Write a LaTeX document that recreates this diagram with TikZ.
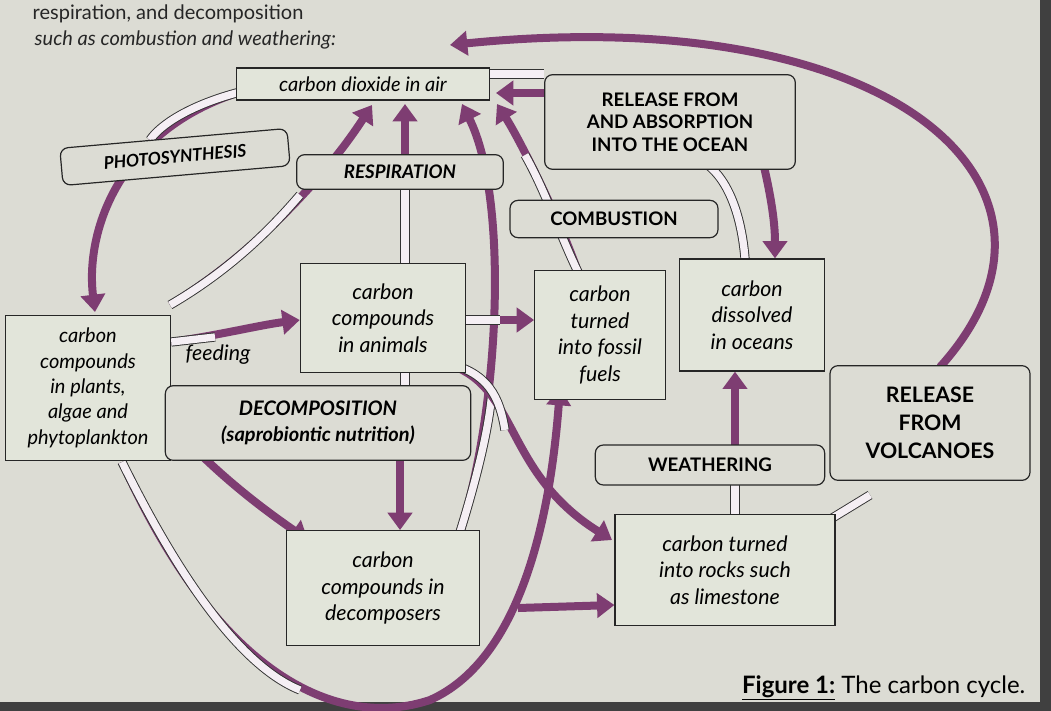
\documentclass[tikz,border=0pt]{standalone}
\usepackage{fontspec}
\setmainfont{Lato}
\usetikzlibrary{arrows.meta,backgrounds}
\pgfdeclarelayer{arr}
\pgfsetlayers{background,arr,main}
\definecolor{pagec}{HTML}{DCDCD4}
\definecolor{boxc}{HTML}{E2E5DA}
\definecolor{arrc}{HTML}{7E3D72}
\begin{document}
\begin{tikzpicture}[x=0.75pt,y=-0.75pt,
  box/.style={draw=black!85,fill=boxc,line width=0.9pt,align=center,inner sep=3pt,font=\itshape\fontsize{16}{20}\selectfont},
  lab/.style={draw=black!85,fill=pagec,line width=0.9pt,rounded corners=6pt,align=center,inner sep=3pt,font=\bfseries\fontsize{14}{17}\selectfont},
  parr/.style={draw=arrc,line width=6pt,-{Triangle[length=13pt,width=18pt]}},
  harr/.style={draw=black!80,double=white!92!arrc,double distance=5.5pt,line width=0.7pt}]
\useasboundingbox (0,0) rectangle (1051,711);
\begin{pgfonlayer}{background}
\fill[pagec] (0,0) rectangle (1051,711);
\fill[black!75] (1040,0) rectangle (1051,711);
\fill[black!75] (0,702) rectangle (1051,711);
\end{pgfonlayer}
\node[anchor=west,font=\fontsize{15}{17}\selectfont,text=black!85] (t2) at (28,14) {respiration, and decomposition};
\node[anchor=west,font=\itshape\fontsize{15}{17}\selectfont,text=black!85] (t3) at (30,40) {such as combustion and weathering:};
% boxes
\node[box,minimum width=190pt,minimum height=24pt,font=\itshape\fontsize{15}{18}\selectfont] (co2) at (363,84) {carbon dioxide in air};
\node[box,minimum width=124pt,minimum height=82pt] (anim) at (383,318) {carbon\\compounds\\in animals};
\node[box,minimum width=98pt,minimum height=97pt] (foss) at (600,335) {carbon\\turned\\into fossil\\fuels};
\node[box,minimum width=109pt,minimum height=84pt] (diss) at (752,315) {carbon\\dissolved\\in oceans};
\node[box,minimum width=124pt,minimum height=109pt,font=\itshape\fontsize{15}{19}\selectfont] (plant) at (88,388) {carbon\\compounds\\in plants,\\algae and\\phytoplankton};
\node[box,minimum width=145pt,minimum height=86pt] (deco) at (383,588) {carbon\\compounds in\\decomposers};
\node[box,minimum width=165pt,minimum height=83pt] (rock) at (725,570) {carbon turned\\into rocks such\\as limestone};
% labels
\node[lab,rotate=5,minimum width=171pt,minimum height=28pt,font=\bfseries\itshape\fontsize{13}{16}\selectfont] (photo) at (175,157) {PHOTOSYNTHESIS};
\node[lab,minimum width=155pt,minimum height=26pt,font=\bfseries\itshape\fontsize{14}{17}\selectfont] (resp) at (400,172) {RESPIRATION};
\node[lab,minimum width=188pt,minimum height=71pt] (ocean) at (670,122) {RELEASE FROM\\AND ABSORPTION\\INTO THE OCEAN};
\node[lab,minimum width=156pt,minimum height=28pt] (comb) at (614,219) {COMBUSTION};
\node[lab,minimum width=229pt,minimum height=56pt,font=\bfseries\itshape\fontsize{15}{19}\selectfont] (decomp) at (318,423) {DECOMPOSITION\\(saprobiontic nutrition)};
\node[lab,minimum width=172pt,minimum height=30pt] (weath) at (710,465) {WEATHERING};
\node[lab,minimum width=150pt,minimum height=86pt,font=\bfseries\fontsize{16}{21}\selectfont] (volc) at (930,423) {RELEASE\\FROM\\VOLCANOES};
\node[font=\itshape\fontsize{16}{19}\selectfont] (feed) at (218,355) {feeding};
\node[anchor=east,font=\fontsize{18}{20}\selectfont] (fig) at (1030,688) {\textbf{\underline{Figure 1:}}\ The carbon cycle.};
% coordinates
\coordinate (pA) at (240,92);
\coordinate (pB) at (95,312);
\coordinate (rB1) at (170,305);
\coordinate (rB2) at (372,105);
\coordinate (dB1) at (455,548);
\coordinate (dB2) at (462,104);
\coordinate (fB1) at (578,272);
\coordinate (fB2) at (497,104);
\coordinate (vA) at (940,367);
\coordinate (vB) at (450,45);
\coordinate (uA) at (122,462);
\coordinate (uM) at (518,608);
\coordinate (uB) at (560,388);
\coordinate (mA) at (440,362);
\coordinate (mB) at (612,540);
\begin{pgfonlayer}{arr}
\draw[parr] (pA) .. controls (120,130) and (85,230) .. (pB);
\draw[harr] (pA) .. controls (190,105) and (160,125) .. (150,140);
\draw[parr] (rB1) .. controls (260,250) and (330,170) .. (rB2);
\draw[harr] (rB1) .. controls (230,270) and (270,230) .. (300,195);
\draw[parr] (anim.north -| 405,0) -- (405,104);
\draw[harr] (anim.north -| 405,0) -- (405,185);
\draw[parr] (dB1) .. controls (500,420) and (510,200) .. (dB2);
\draw[harr] (dB1) .. controls (480,470) and (490,420) .. (492,390);
\draw[parr] (fB1) .. controls (560,220) and (520,140) .. (fB2);
\draw[harr] (fB1) .. controls (560,235) and (545,190) .. (525,155);
\draw[parr] (ocean.west |- 0,93) -- (496,93);
\draw[parr] (760,150) .. controls (770,190) and (775,220) .. (diss.north -| 775,0);
\draw[harr] (diss.north -| 745,0) .. controls (740,200) and (720,170) .. (700,160);
\draw[harr] (490,74) -- (ocean.west |- 0,74);
\draw[parr] (vA) .. controls (1100,190) and (900,0) .. (vB);
\draw[harr] (rock.north east) ++(-5,5) -- (870,495);
\draw[parr] (plant.east |- 0,342) .. controls (220,335) and (260,325) .. (anim.west |- 0,320);
\draw[harr] (plant.east |- 0,342) -- (215,337);
\draw[parr] (anim.east |- 0,320) -- (foss.west |- 0,320);
\draw[harr] (anim.east |- 0,320) -- (500,320);
\draw[parr] (400,395) -- (deco.north -| 400,0);
\draw[harr] (anim.south -| 405,0) -- (405,395);
\draw[parr] (150,400) .. controls (200,460) and (250,500) .. (308,540);
\draw[parr] (uA) .. controls (220,680) and (340,730) .. (430,700) .. controls (520,660) and (550,520) .. (uB);
\draw[harr] (uA) .. controls (190,600) and (250,670) .. (300,690);
\draw[parr] (uM) -- (rock.west |- 0,605);
\draw[parr] (mA) .. controls (520,380) and (500,470) .. (mB);
\draw[harr] (mA) .. controls (490,370) and (500,400) .. (505,430);
\draw[parr] (735,445) -- (diss.south -| 735,0);
\draw[harr] (rock.north -| 735,0) -- (735,485);
\end{pgfonlayer}
\end{tikzpicture}
\end{document}
